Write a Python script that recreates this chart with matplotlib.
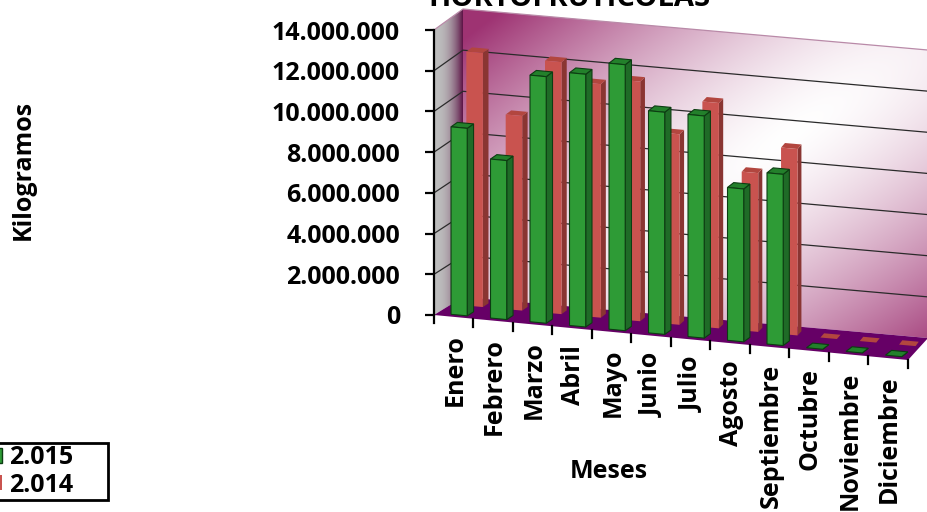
import matplotlib
matplotlib.use('Agg')
import matplotlib.pyplot as plt
import numpy as np
from matplotlib.patches import Patch, Polygon

plt.rcParams['font.family'] = ['Open Sans', 'DejaVu Sans']
plt.rcParams['font.weight'] = 'bold'

months = ['Enero', 'Febrero', 'Marzo', 'Abril', 'Mayo', 'Junio', 'Julio',
          'Agosto', 'Septiembre', 'Octubre', 'Noviembre', 'Diciembre']
values_2015 = [9200000, 7800000, 12100000, 12400000, 13050000, 10900000,
               10900000, 7500000, 8400000, 0, 0, 0]
values_2014 = [12400000, 9500000, 12300000, 11400000, 11700000, 9300000,
               11000000, 7750000, 9100000, 0, 0, 0]
yticks = [0, 2000000, 4000000, 6000000, 8000000, 10000000, 12000000, 14000000]
yticklabels = ['0', '2.000.000', '4.000.000', '6.000.000', '8.000.000',
               '10.000.000', '12.000.000', '14.000.000']

W, H = 928, 512
X0, X1, Y0, Y1 = 434, 908, 315, 30   # front plane, in pixels
UNIT = 14000000 / (Y0 - Y1)          # kg per pixel
STEP = (X1 - X0) / 12


def proj(m, v, d):
    # month position, value, depth (0 front, 1 back) -> axes data coordinates
    dx = 29 * d - 0.75 * m * d ** 3
    dy = (18 + 0.33 * m) * d
    # the wall leans out slightly with height
    lift = 3 * d * v / 14000000
    return m + dx / STEP, v + (dy + lift - 3.75 * m) * UNIT


def from_px(px, py):
    return (px - X0) / STEP, (Y0 - py) * UNIT


fig = plt.figure(figsize=(W / 100, H / 100), dpi=100)
ax = fig.add_axes([X0 / W, 1 - Y0 / H, (X1 - X0) / W, (Y0 - Y1) / H])
ax.patch.set_visible(False)
for s in ['top', 'right', 'bottom']:
    ax.spines[s].set_visible(False)
ax.spines['left'].set_linewidth(1.6)


def face(points, color, edge='none', lw=0.8, z=3):
    p = Polygon([proj(*q) for q in points], closed=True, facecolor=color,
                edgecolor=edge, linewidth=lw, zorder=z, clip_on=False)
    ax.add_patch(p)
    return p


def gradient(arr, points, z):
    x0, y0 = from_px(0, H)
    x1, y1 = from_px(W, 0)
    im = ax.imshow(arr, extent=[x0, x1, y0, y1], origin='upper', aspect='auto',
                   zorder=z, interpolation='bilinear')
    im.set_clip_box(fig.bbox)
    im.set_clip_path(Polygon([proj(*q) for q in points], transform=ax.transData))


px, py = np.meshgrid(np.arange(W) + 0.5, np.arange(H) + 0.5)

# back wall, white in the middle, plum towards two corners
u = (px - 790) / 465
v = (py - 135) / 330
r = np.clip(np.sqrt((u + v) ** 2 + (0.3 * (u - v)) ** 2), 0, 1.15)
t = np.clip(r ** 1.45, 0, 1)[..., None]
wall = (1 - t) * np.array([1.0, 1.0, 1.0]) + t * np.array([0.62, 0.2, 0.45])
gradient(wall, [(0, 0, 1), (12, 0, 1), (12, 14000000, 1), (0, 14000000, 1)], 0)

# side wall
t = np.clip((px - 436) / 27, 0, 1)[..., None] ** 2.2
side = (1 - t) * np.array([0.74, 0.74, 0.74]) + t * np.array([0.36, 0.07, 0.27])
gradient(side, [(0, 0, 0), (0, 0, 1), (0, 14000000, 1), (0, 14000000, 0)], 0)

# floor
face([(0, 0, 0), (12, 0, 0), (12, 0, 1), (0, 0, 1)], '#660066', z=1)

# gridlines on side wall and back wall
for val in yticks[1:]:
    col = '#b98aa8' if val == yticks[-1] else '#2a2a2a'
    xs, ys = zip(*[proj(0, val, 0), proj(0, val, 1), proj(12, val, 1)])
    ax.plot(xs, ys, color=col, lw=0.9, zorder=2, clip_on=False)


def bars(values, offset, depth, width, thick, front, sidec, topc, edge, z):
    for i, val in enumerate(values):
        a, b = i + offset, i + offset + width
        c, e = depth, depth + thick
        # side and top first, front face over them
        face([(b, 0, c), (b, 0, e), (b, val, e), (b, val, c)], sidec, edge, z=z)
        face([(a, val, c), (b, val, c), (b, val, e), (a, val, e)], topc, edge, z=z)
        if val > 0:
            face([(a, 0, c), (b, 0, c), (b, val, c), (a, val, c)], front, edge, z=z)


bars(values_2014, 0.38, 0.6, 0.42, 0.2, '#c9534f', '#8a3532', '#b2463f', 'none', 3)
bars(values_2015, 0.35, 0.11, 0.41, 0.22, '#2e9b36', '#1f6b27', '#23802b', '#0c3d12', 4)

ax.set_xlim(0, 12)
ax.set_ylim(0, 14000000)
ax.set_xticks([])
ax.set_yticks(yticks)
ax.set_yticklabels(yticklabels, fontsize=18, fontweight='bold')
ax.tick_params(axis='y', length=6.5, width=1.6, pad=18)

# month ticks and labels follow the slanted floor edge
for i in range(13):
    xa, ya = proj(i, 0, 0)
    ax.plot([xa, xa], [ya, ya - 8 * UNIT], color='black', lw=1.6, clip_on=False, zorder=5)
for i, name in enumerate(months):
    xa, ya = proj(i + 0.53, 0, 0)
    ax.text(xa, ya - 17 * UNIT, name, rotation=90, ha='center', va='top',
            fontsize=18, fontweight='bold', clip_on=False)

fig.text(569 / W, 1 - 6 / H, 'HORTOFRUTICOLAS', ha='center', va='baseline',
         fontsize=21, fontweight='bold')
fig.text(23 / W, 1 - 170 / H, 'Kilogramos', rotation=90, ha='center', va='center',
         fontsize=18, fontweight='bold')
fig.text(609 / W, 1 - 472 / H, 'Meses', ha='center', va='center',
         fontsize=18, fontweight='bold')

handles = [Patch(facecolor='#2e9b36', edgecolor='#0c3d12', label='2.015'),
           Patch(facecolor='#c9534f', edgecolor='none', label='2.014')]
leg = fig.legend(handles=handles, loc='lower left', mode='expand',
                 bbox_to_anchor=(-14 / W, 1 - 500 / H, 122 / W, 65 / H), fontsize=18,
                 handlelength=0.55, handleheight=0.55, handletextpad=0.28,
                 borderpad=0.1, labelspacing=0.1, borderaxespad=0,
                 fancybox=False, framealpha=1, edgecolor='black')
leg.get_frame().set_linewidth(2)

fig.savefig('out.png', dpi=100)
